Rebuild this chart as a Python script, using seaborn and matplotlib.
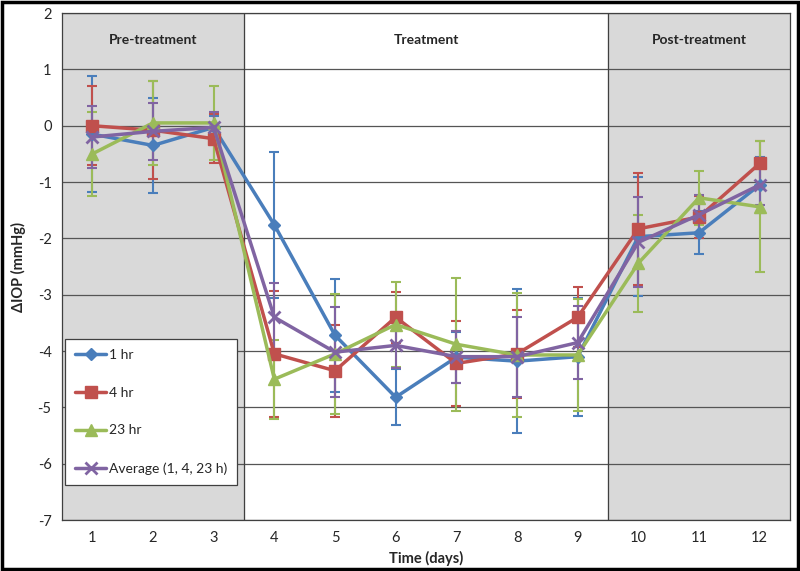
import matplotlib
matplotlib.use("Agg")
import matplotlib.pyplot as plt
import seaborn as sns
from matplotlib.patches import Rectangle

# Данные
days = list(range(1, 13))
hr1 = [-0.15, -0.35, -0.03, -1.76, -3.72, -4.82, -4.11, -4.18, -4.10, -1.97, -1.90, -1.05]
hr1_err = [1.03, 0.84, 0.20, 1.29, 1.00, 0.50, 0.45, 1.28, 1.05, 1.06, 0.38, 0.50]
hr4 = [0.0, -0.08, -0.23, -4.05, -4.35, -3.40, -4.22, -4.05, -3.40, -1.83, -1.62, -0.67]
hr4_err = [0.70, 0.87, 0.43, 1.12, 0.82, 0.45, 0.76, 0.78, 0.53, 0.99, 0.37, 0.40]
hr23 = [-0.50, 0.05, 0.05, -4.50, -4.05, -3.53, -3.88, -4.07, -4.07, -2.44, -1.28, -1.44]
hr23_err = [0.74, 0.75, 0.65, 0.70, 1.06, 0.76, 1.18, 1.10, 1.00, 0.86, 0.48, 1.16]
avg = [-0.20, -0.10, -0.03, -3.40, -4.02, -3.90, -4.10, -4.10, -3.85, -2.07, -1.58, -1.05]
avg_err = [0.55, 0.50, 0.28, 0.60, 0.80, 0.40, 0.46, 0.71, 0.65, 0.80, 0.35, 0.35]

names = ["1 hr", "4 hr", "23 hr", "Average (1, 4, 23 h)"]
colors = ["#4A7EBB", "#C0504D", "#9BBB59", "#8064A2"]
markers = ["D", "s", "^", "x"]
msizes = [6, 9, 9, 9]

phases = ["Pre-treatment", "Treatment", "Post-treatment"]
phase_centers = [2, 6.5, 11]

sns.set_style("white")
plt.rcParams["font.family"] = ["Lato", "DejaVu Sans"]
plt.rcParams["axes.unicode_minus"] = False

fig = plt.figure(figsize=(8, 5.71), dpi=100)
ax = fig.add_axes([0.0775, 0.0893, 0.91, 0.8878])

# Фон фаз
ax.axvspan(0.5, 3.5, color="#D9D9D9", zorder=0)
ax.axvspan(9.5, 12.5, color="#D9D9D9", zorder=0)
ax.axvline(3.5, color="#404040", lw=0.9, zorder=1)
ax.axvline(9.5, color="#404040", lw=0.9, zorder=1)

series = [(hr1, hr1_err), (hr4, hr4_err), (hr23, hr23_err), (avg, avg_err)]
for (vals, err), name, c, m, ms in zip(series, names, colors, markers, msizes):
    ax.errorbar(days, vals, yerr=err, fmt="none", ecolor=c, elinewidth=1.5,
                capsize=3.5, capthick=1.5, zorder=2)
    sns.lineplot(x=days, y=vals, ax=ax, color=c, marker=m, markersize=ms,
                 linewidth=2.5, markeredgecolor=c, markeredgewidth=2 if m == "x" else 1,
                 label=name, zorder=3)

for txt, xc in zip(phases, phase_centers):
    ax.text(xc, 1.53, txt, ha="center", va="center", fontsize=10, fontweight="bold")

ax.set_xlim(0.5, 12.5)
ax.set_ylim(-7, 2)
ax.set_xticks(days)
ax.set_xticks([d + 0.5 for d in range(0, 13)], minor=True)
ax.tick_params(axis="x", which="major", length=0, labelsize=10.5, pad=8)
ax.tick_params(axis="x", which="minor", length=5, direction="out", color="#404040")
ax.set_yticks(range(-7, 3))
ax.tick_params(axis="y", length=4, direction="out", color="#404040", labelsize=10.5)
ax.yaxis.grid(True, color="#555555", lw=0.9)
ax.set_axisbelow(True)
for s in ax.spines.values():
    s.set_color("#404040")
    s.set_linewidth(0.9)

ax.set_xlabel("Time (days)", fontsize=10.5, fontweight="bold", labelpad=4)
ax.set_ylabel("ΔIOP (mmHg)", fontsize=10.5, fontweight="bold", labelpad=8)

leg = ax.legend(loc="lower left", bbox_to_anchor=(0.004, 0.069), borderaxespad=0,
                frameon=True, fancybox=False, edgecolor="#404040", framealpha=1,
                labelspacing=1.85, handlelength=2.2, handletextpad=0.2,
                borderpad=0.75, fontsize=10)
leg.get_frame().set_linewidth(0.9)
leg.set_zorder(5)

fig.patches.append(Rectangle((0.002, 0.003), 0.996, 0.994, transform=fig.transFigure,
                             fill=False, lw=2.5, ec="black"))

fig.savefig("out.png", dpi=100)
